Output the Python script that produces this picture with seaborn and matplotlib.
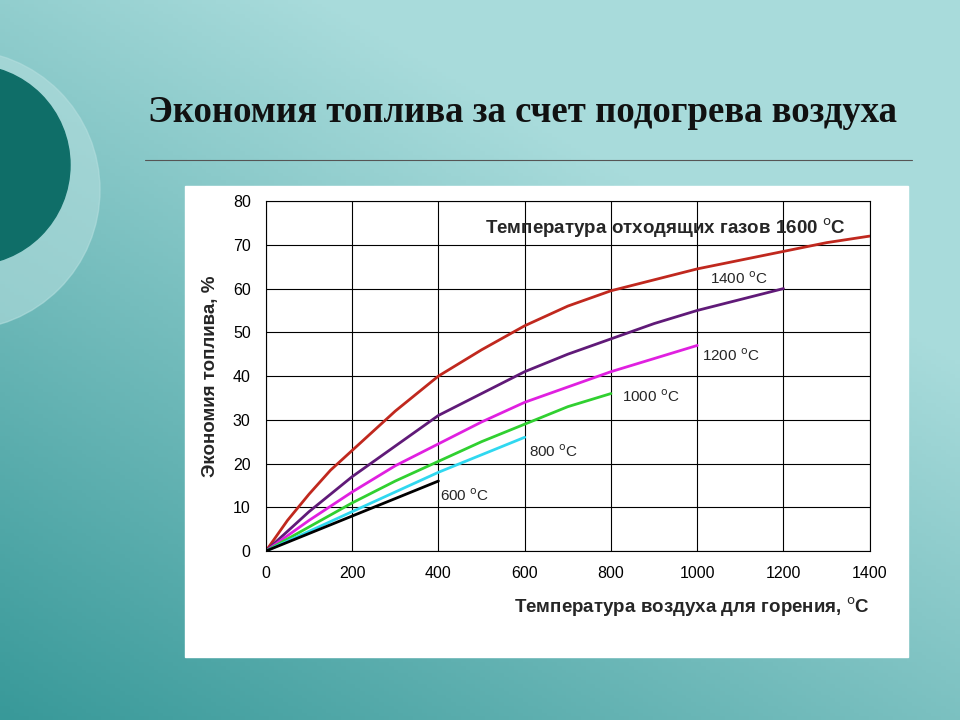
import numpy as np
import matplotlib
matplotlib.use("Agg")
import matplotlib.pyplot as plt
import seaborn as sns
import pandas as pd
from matplotlib.patches import Circle, Rectangle

sns.set_theme(style="white")
plt.rcParams['font.family'] = ['Liberation Sans', 'DejaVu Sans']

x_1600 = [0,50,100,150,200,300,400,500,600,700,800,900,1000,1100,1200,1300,1400]
y_1600 = [0,7,13,18.5,23,32,40,46,51.5,56,59.5,62,64.5,66.5,68.5,70.5,72]
x_1400 = [0,100,200,300,400,500,600,700,800,900,1000,1100,1200]
y_1400 = [0,9,17,24,31,36,41,45,48.5,52,55,57.5,60]
x_1200 = [0,100,200,300,400,500,600,700,800,900,1000]
y_1200 = [0,7,13.5,19.5,24.5,29.5,34,37.5,41,44,47]
x_1000 = [0,100,200,300,400,500,600,700,800]
y_1000 = [0,5.5,11,16,20.5,25,29,33,36]
x_800 = [0,100,200,300,400,500,600]
y_800 = [0,4.5,9,13.5,18,22,26]
x_600 = [0,100,200,300,400]
y_600 = [0,4,8,12,16]

series = [("1600", x_1600, y_1600, "#c0281e"), ("1400", x_1400, y_1400, "#601a78"),
          ("1200", x_1200, y_1200, "#e020e0"), ("1000", x_1000, y_1000, "#30d030"),
          ("800", x_800, y_800, "#30d8f0"), ("600", x_600, y_600, "#000000")]
labels = {"1400": (1030, 61), "1200": (1010, 43.5), "1000": (825, 34),
          "800": (610, 21.5), "600": (403, 11.5)}

fig = plt.figure(figsize=(9.6, 7.2), dpi=100)
bg = fig.add_axes([0, 0, 1, 1])
yy, xx = np.mgrid[0:1:200j, 0:1:200j]
t = np.clip((yy * 0.8 + (1 - xx) * 0.6) - 0.4, 0, 1)
c1 = np.array([0.66, 0.86, 0.86]); c2 = np.array([0.22, 0.60, 0.60])
img = c1 * (1 - t[..., None]) + c2 * t[..., None]
bg.imshow(img, extent=[0, 960, 0, 720], origin="upper", aspect="auto")
bg.add_patch(Circle((-40, 530), 140, color="#b4dede", alpha=0.6))
bg.add_patch(Circle((-30, 555), 100, color="#0f6e68"))
bg.add_patch(Rectangle((185, 63), 723, 471, color="white"))
bg.plot([145, 912], [560, 560], color="#555555", lw=0.8)
bg.text(148, 608, "Экономия топлива за счет подогрева воздуха", ha="left", va="center",
        fontsize=26.5, fontweight="bold", family="Liberation Serif", color="#111111")
bg.set_xlim(0, 960); bg.set_ylim(0, 720); bg.axis("off")

ax = fig.add_axes([0.277, 0.2347, 0.629, 0.486])
for name, xs, ys, col in series:
    df = pd.DataFrame({"x": xs, "y": ys})
    sns.lineplot(data=df, x="x", y="y", ax=ax, color=col, lw=2)
for name, (lx, ly) in labels.items():
    ax.text(lx, ly, name + r" $^{\mathrm{o}}$C", fontsize=11)
ax.text(1345, 71, "Температура отходящих газов 1600 $^{\\mathrm{o}}$C", fontsize=13.5,
        fontweight="bold", ha="right", va="bottom")
ax.set_xlim(0, 1400); ax.set_ylim(0, 80)
ax.set_xticks(range(0, 1401, 200)); ax.set_yticks(range(0, 81, 10))
ax.grid(True, color="black", lw=0.8)
for s in ax.spines.values():
    s.set_color("black"); s.set_linewidth(0.8)
ax.tick_params(labelsize=11.5, colors="black", length=0, pad=11)
ax.set_xlabel("Температура воздуха для горения, $^{\\mathrm{o}}$C", fontsize=13.5,
              fontweight="bold", loc="right", labelpad=10)
ax.set_ylabel("Экономия топлива, %", fontsize=13.5, fontweight="bold", labelpad=10)
fig.savefig("out.png", dpi=100)
